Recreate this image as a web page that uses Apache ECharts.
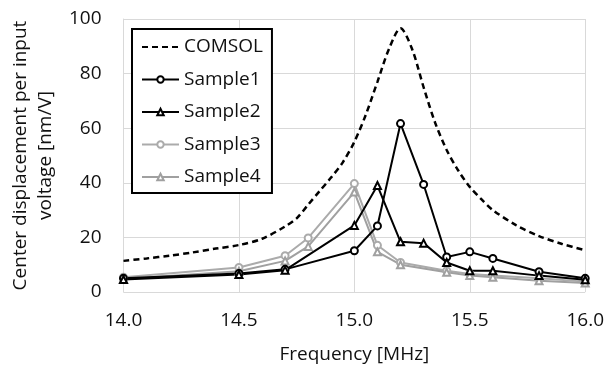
<!DOCTYPE html>
<html>
<head>
<meta charset="utf-8">
<script src="https://cdn.jsdelivr.net/npm/echarts@6/dist/echarts.min.js"></script>
<style>html,body{margin:0;padding:0;background:#fff}#c{width:607px;height:369px}</style>
</head>
<body>
<div id="c"></div>
<script>
var comsolFreq = [14.0,14.1,14.2,14.3,14.4,14.5,14.6,14.7,14.75,14.8,14.85,14.9,14.95,15.0,15.05,15.1,15.15,15.2,15.25,15.3,15.35,15.4,15.45,15.5,15.55,15.6,15.7,15.8,15.9,16.0];
var comsolVal  = [11.4,12.3,13.3,14.5,15.9,17.2,19.5,24.0,27.0,32.0,37.0,42.0,47.5,55.0,65.0,77.0,89.0,96.6,89.0,75.0,62.0,52.0,44.5,38.5,34.0,30.0,24.5,20.5,17.6,15.3];
var freq12 = [14.0,14.5,14.7,15.0,15.1,15.2,15.3,15.4,15.5,15.6,15.8,16.0];
var sample1 = [5.0,6.8,8.3,15.1,24.2,61.7,39.4,12.8,14.7,12.3,7.4,5.0];
var sample2 = [4.6,6.4,8.0,24.4,39.0,18.4,17.9,10.8,7.8,7.8,6.0,4.5];
var freq34 = [14.0,14.5,14.7,14.8,15.0,15.1,15.2,15.4,15.5,15.6,15.8,16.0];
var sample3 = [5.4,9.0,13.3,19.8,39.7,17.1,10.8,7.8,6.6,6.0,5.0,3.8];
var sample4 = [4.8,7.6,11.4,16.7,36.6,14.7,10.0,7.2,6.0,5.4,4.1,3.3];
var seriesNames = ['COMSOL','Sample1','Sample2','Sample3','Sample4'];
var xTitle = 'Frequency [MHz]';
var yTitle = 'Center displacement per input\nvoltage [nm/V]';

function pairs(xs, ys){ return xs.map(function(x,i){ return [x, ys[i]]; }); }
var FONT = 'Open Sans';
var TXT = '#111';
function sample(name, xs, ys, color, symbol){
  return {
    name: name, type: 'line', data: pairs(xs, ys),
    symbol: symbol, symbolSize: 7, showSymbol: true,
    lineStyle: {color: color, width: 2},
    itemStyle: {color: color, borderColor: color, borderWidth: 1.5},
    emphasis: {disabled: true}
  };
}
var chart = echarts.init(document.getElementById('c'));
chart.setOption({
  animation: false,
  textStyle: {fontFamily: FONT},
  grid: {left: 118, right: 18, top: 19, bottom: 76},
  xAxis: {
    type: 'value', min: 14, max: 16, interval: 0.5,
    name: xTitle, nameLocation: 'middle', nameGap: 53,
    nameTextStyle: {fontSize: 19, color: TXT, fontFamily: FONT},
    axisLine: {show: false}, axisTick: {show: false},
    axisLabel: {fontSize: 19, color: TXT, margin: 19, formatter: function(v){ return v.toFixed(1); }},
    splitLine: {show: true, lineStyle: {color: '#d9d9d9', width: 1}}
  },
  yAxis: {
    type: 'value', min: 0, max: 100, interval: 20,
    name: yTitle, nameLocation: 'middle', nameGap: 62, nameRotate: 90,
    nameTextStyle: {fontSize: 19, color: TXT, lineHeight: 25, fontFamily: FONT},
    axisLine: {show: true, lineStyle: {color: '#d9d9d9'}}, axisTick: {show: false},
    axisLabel: {fontSize: 19, color: TXT, margin: 22},
    splitLine: {show: true, lineStyle: {color: '#d9d9d9', width: 1}}
  },
  legend: {
    data: [{name: 'COMSOL', itemStyle: {opacity: 0}}, 'Sample1', 'Sample2', 'Sample3', 'Sample4'],
    orient: 'vertical', left: 132, top: 29,
    itemWidth: 37, itemHeight: 8, itemGap: 12.5,
    padding: [8, 9, 6, 9],
    borderColor: '#000', borderWidth: 2, backgroundColor: '#fff',
    textStyle: {fontSize: 19, lineHeight: 20, color: TXT, fontFamily: FONT},
    selectedMode: false
  },
  series: [
    {name: 'COMSOL', type: 'line', data: pairs(comsolFreq, comsolVal), smooth: 0.3,
     symbol: 'none', lineStyle: {color: '#000', width: 2.5, type: [6, 4]},
     itemStyle: {color: '#000'}, emphasis: {disabled: true}, z: 1},
    sample('Sample3', freq34, sample3, '#ababab', 'emptyCircle'),
    sample('Sample4', freq34, sample4, '#a0a0a0', 'emptyTriangle'),
    sample('Sample1', freq12, sample1, '#000', 'emptyCircle'),
    sample('Sample2', freq12, sample2, '#000', 'emptyTriangle')
  ]
});
</script>
</body>
</html>
